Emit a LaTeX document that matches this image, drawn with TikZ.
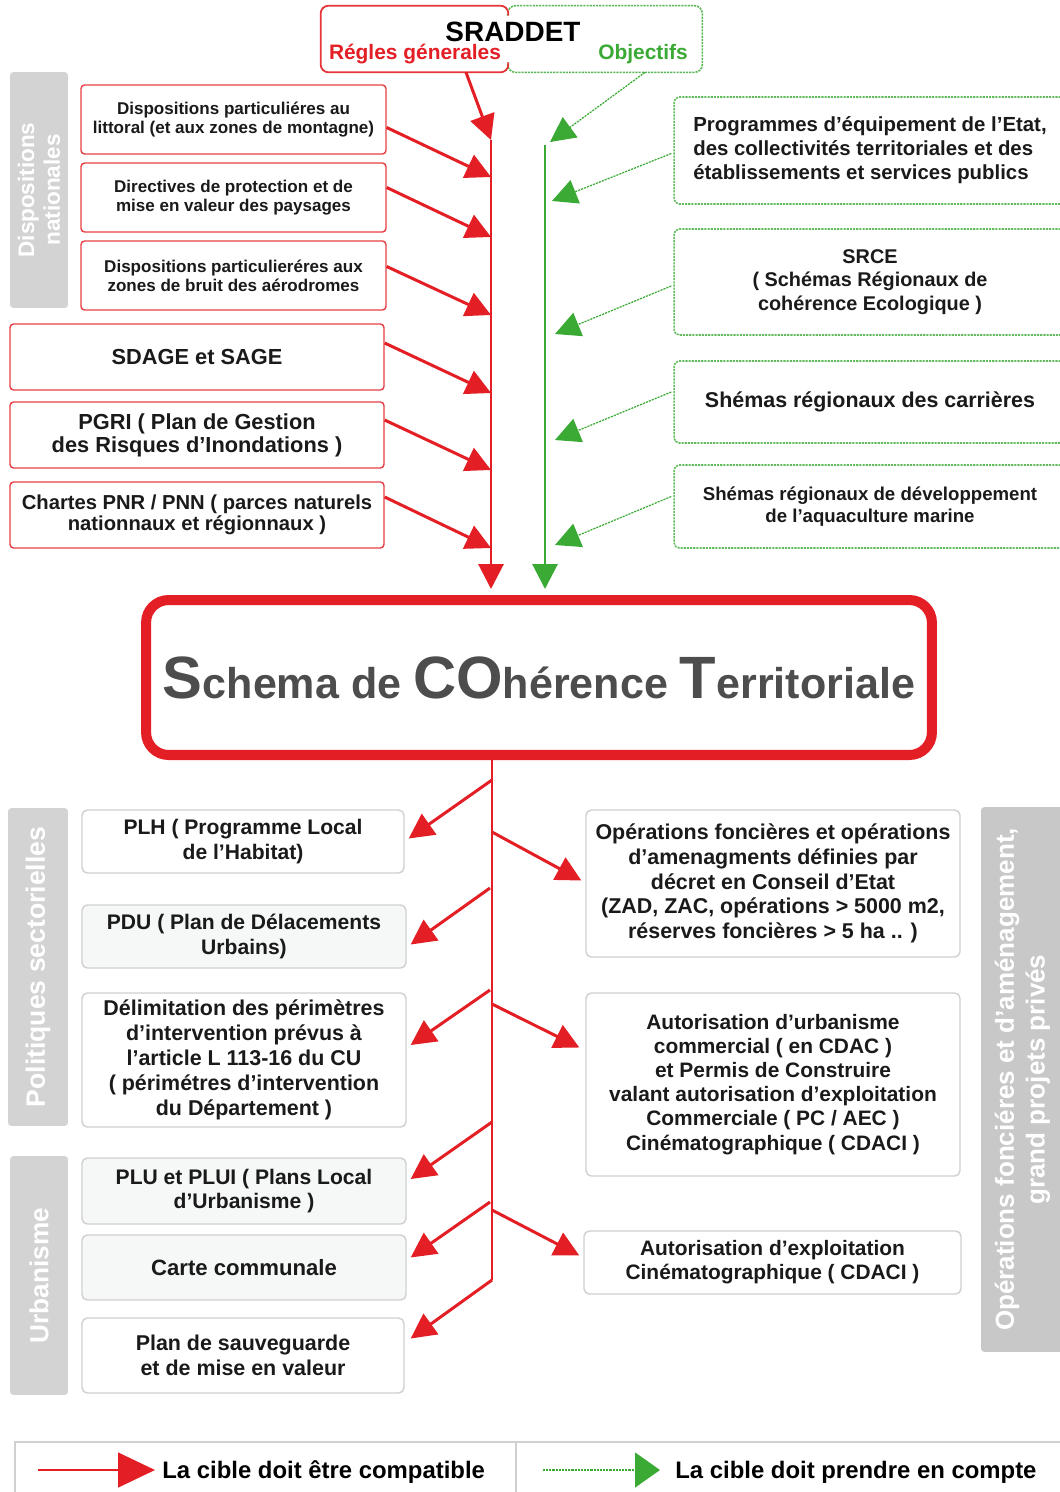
\documentclass[tikz,border=0pt]{standalone}
\usepackage{fontspec}
\setmainfont{Liberation Sans}
\usetikzlibrary{arrows.meta,calc}
\definecolor{rouge}{HTML}{E31E24}
\definecolor{vert}{HTML}{3AAA35}
\definecolor{gris}{HTML}{D3D3D3}
\definecolor{grisfonce}{HTML}{C8C8C8}
\definecolor{grisbord}{HTML}{D0D0D0}
\definecolor{texte}{HTML}{1A1A1A}
\definecolor{scotgris}{HTML}{4D4D4D}
\definecolor{fondbox}{HTML}{F6F7F7}
\newcommand\fsz[2]{\fontsize{#1}{#2}\selectfont\bfseries}
\tikzset{
  rbox/.style={draw=rouge!85,line width=0.8pt,rounded corners=2pt,fill=white,inner sep=0pt,align=center,text=texte},
  vbox/.style={draw=vert!80,line width=0.9pt,dash pattern=on 1.2pt off 0.6pt,rounded corners=3pt,fill=white,inner sep=0pt,align=center,text=texte},
  gbox/.style={draw=grisbord,line width=0.8pt,rounded corners=3pt,fill=white,inner sep=0pt,align=center,text=texte},
  side/.style={fill=gris,rounded corners=2pt,inner sep=0pt,align=center,text=white,rotate=90},
  fr/.style={rouge,line width=1.7pt,-{Triangle[length=0.5cm,width=0.5cm]}},
  fv/.style={vert,line width=0.7pt,dash pattern=on 1.2pt off 0.6pt,-{Triangle[length=0.5cm,width=0.5cm]}},
}
\begin{document}
\begin{tikzpicture}[x=0.02cm,y=-0.02cm]
  \useasboundingbox[fill=white] (0,0) rectangle (1059,1492);

  \node[minimum width=3.74cm,minimum height=1.32cm,inner sep=0pt] (sr) at (414.5,39) {};
  \node[minimum width=3.88cm,minimum height=1.32cm,inner sep=0pt] (ob) at (605,39) {};
  \draw[vert!85,line width=0.9pt,dash pattern=on 1.2pt off 0.6pt,rounded corners=4.5pt] ([yshift=-0.2cm]ob.north west) -- (ob.north west) -- (ob.north east) -- (ob.south east) -- (ob.south west) -- ([yshift=0.2cm]ob.south west);
  \draw[rouge!90,line width=1pt,rounded corners=4.5pt] ([yshift=-0.2cm]sr.north east) -- (sr.north east) -- (sr.north west) -- (sr.south west) -- (sr.south east) -- ([yshift=0.2cm]sr.south east);
  \node[font=\fsz{15.9}{16},text=black] (tsr) at (513,32) {SRADDET};
  \node[font=\fsz{11.9}{12},text=rouge] (trg) at (415,54) {Régles génerales};
  \node[font=\fsz{11.9}{12},text=vert] (tob) at (643,54) {Objectifs};

  \node[side,minimum width=4.72cm,minimum height=1.16cm,font=\fsz{12.8}{14.7}] (dn) at (39,190) {Dispositions\\nationales};
  \node[side,minimum width=6.36cm,minimum height=1.2cm,font=\fsz{15.1}{16}] (ps) at (38,967) {Politiques sectorielles};
  \node[side,minimum width=4.78cm,minimum height=1.16cm,font=\fsz{14.9}{16}] (ur) at (39,1275.5) {Urbanisme};
  \node[side,fill=grisfonce,minimum width=10.9cm,minimum height=1.66cm,font=\fsz{14.8}{17.5}] (of) at (1022.5,1079.5) {Opérations fonciéres et d’aménagement,\\grand projets privés};

  \node[rbox,minimum width=6.1cm,minimum height=1.38cm,font=\fsz{9.7}{10.8}] (dp1) at (233.5,119.5) {Dispositions particuliéres au\\littoral (et aux zones de montagne)};
  \node[rbox,minimum width=6.1cm,minimum height=1.38cm,font=\fsz{9.7}{10.8}] (dp2) at (233.5,197.5) {Directives de protection et de\\mise en valeur des paysages};
  \node[rbox,minimum width=6.1cm,minimum height=1.38cm,font=\fsz{9.7}{10.8}] (dp3) at (233.5,275.5) {Dispositions particulieréres aux\\zones de bruit des aérodromes};
  \node[rbox,minimum width=7.48cm,minimum height=1.32cm,font=\fsz{12.4}{13}] (sd) at (197,357) {SDAGE et SAGE};
  \node[rbox,minimum width=7.48cm,minimum height=1.32cm,font=\fsz{12.4}{13}] (pg) at (197,435) {PGRI ( Plan de Gestion\\des Risques d’Inondations )};
  \node[rbox,minimum width=7.48cm,minimum height=1.32cm,font=\fsz{11.5}{11.8}] (ch) at (197,515) {Chartes PNR / PNN ( parces naturels\\nationnaux et régionnaux )};

  \node[vbox,minimum width=7.84cm,minimum height=2.14cm,font=\fsz{11.6}{13.6},align=left] (pe) at (870,150.5) {Programmes d’équipement de l’Etat,\\des collectivités territoriales et des\\établissements et services publics};
  \node[vbox,minimum width=7.84cm,minimum height=2.12cm,font=\fsz{11.3}{13.3}] (srce) at (870,282) {SRCE\\( Schémas Régionaux de\\cohérence Ecologique )};
  \node[vbox,minimum width=7.84cm,minimum height=1.64cm,font=\fsz{12.2}{13}] (ca) at (870,402) {Shémas régionaux des carrières};
  \node[vbox,minimum width=7.84cm,minimum height=1.66cm,font=\fsz{10.6}{12.4}] (aq) at (870,506.5) {Shémas régionaux de développement\\de l’aquaculture marine};

  \node[draw=rouge,line width=5.7pt,rounded corners=0.45cm,minimum width=15.72cm,minimum height=3.1cm,inner sep=0pt,text=scotgris] (scot) at (539,677.5) {{\fsz{34}{34}S}{\fsz{24.5}{25}chema de }{\fsz{34}{34}CO}{\fsz{24.5}{25}hérence }{\fsz{34}{34}T}{\fsz{24.5}{25}erritoriale}};

  \node[gbox,minimum width=6.44cm,minimum height=1.26cm,font=\fsz{12}{14}] (plh) at (243,841.5) {PLH ( Programme Local\\de l’Habitat)};
  \node[gbox,fill=fondbox,minimum width=6.48cm,minimum height=1.26cm,font=\fsz{12}{14}] (pdu) at (244,936.5) {PDU ( Plan de Délacements\\Urbains)};
  \node[gbox,minimum width=6.48cm,minimum height=2.68cm,font=\fsz{12.2}{14.2}] (del) at (244,1060) {Délimitation des périmètres\\d’intervention prévus à\\l’article L 113-16 du CU\\( périmétres d’intervention\\du Département )};
  \node[gbox,fill=fondbox,minimum width=6.48cm,minimum height=1.32cm,font=\fsz{12}{14}] (plu) at (244,1191) {PLU et PLUI ( Plans Local\\d’Urbanisme )};
  \node[gbox,fill=fondbox,minimum width=6.48cm,minimum height=1.3cm,font=\fsz{12.6}{14}] (cc) at (244,1267.5) {Carte communale};
  \node[gbox,minimum width=6.44cm,minimum height=1.5cm,font=\fsz{12.2}{14.4}] (psv) at (243,1355.5) {Plan de sauveguarde\\et de mise en valeur};

  \node[gbox,minimum width=7.48cm,minimum height=2.94cm,font=\fsz{12.2}{14}] (opf) at (773,883.5) {Opérations foncières et opérations\\d’amenagments définies par\\décret en Conseil d’Etat\\(ZAD, ZAC, opérations > 5000 m2,\\réserves foncières > 5 ha .. )};
  \node[gbox,minimum width=7.48cm,minimum height=3.66cm,font=\fsz{11.9}{13.7}] (auc) at (773,1084.5) {Autorisation d’urbanisme\\commercial ( en CDAC )\\et Permis de Construire\\valant autorisation d’exploitation\\Commerciale ( PC / AEC )\\Cinématographique ( CDACI )};
  \node[gbox,minimum width=7.54cm,minimum height=1.26cm,font=\fsz{11.9}{13.7}] (aec) at (772.5,1262.5) {Autorisation d’exploitation\\Cinématographique ( CDACI )};

  \coordinate (rtop) at (491,140);
  \coordinate (vtop) at (545,145);
  \draw[fr] ($(sr.south)+(51.5,0)$) -- (rtop);
  \draw[fv] ($(ob.south)+(40,0)$) -- (550,142);
  \draw[fr] (rtop) -- (rtop |- scot.north) [shorten >=0.12cm];
  \draw[vert,line width=1.7pt,-{Triangle[length=0.5cm,width=0.5cm]},shorten >=0.12cm] (vtop) -- (vtop |- scot.north);

  \coordinate (t1) at (491,177);
  \coordinate (t2) at (491,237);
  \coordinate (t3) at (491,315);
  \coordinate (t4) at (491,393);
  \coordinate (t5) at (491,470);
  \coordinate (t6) at (491,548);
  \draw[fr] ($(dp1.east)+(0,8)$) -- (t1);
  \draw[fr] ($(dp2.east)+(0,-10)$) -- (t2);
  \draw[fr] ($(dp3.east)+(0,-9)$) -- (t3);
  \draw[fr] ($(sd.east)+(0,-14)$) -- (t4);
  \draw[fr] ($(pg.east)+(0,-15)$) -- (t5);
  \draw[fr] ($(ch.east)+(0,-18)$) -- (t6);

  \coordinate (v1) at (552,201);
  \coordinate (v2) at (555,334);
  \coordinate (v3) at (555,440);
  \coordinate (v4) at (555,545);
  \draw[fv] ($(pe.west)+(-2,3)$) -- (v1);
  \draw[fv] ($(srce.west)+(-2,4)$) -- (v2);
  \draw[fv] ($(ca.west)+(-2,-10)$) -- (v3);
  \draw[fv] ($(aq.west)+(-2,-10)$) -- (v4);

  \coordinate (m1) at (492,780);
  \coordinate (m2) at (490,888);
  \coordinate (m3) at (490,990);
  \coordinate (m4) at (492,1122);
  \coordinate (m5) at (490,1202);
  \coordinate (m6) at (492,1280);
  \coordinate (n1) at (492,832);
  \coordinate (n2) at (492,1004);
  \coordinate (n3) at (492,1210);
  \draw[rouge,line width=1.2pt] (scot.south -| m1) -- (m6);
  \draw[fr] (m1) -- ($(plh.east)+(4,-3)$);
  \draw[fr] (m2) -- ($(pdu.east)+(4,8)$);
  \draw[fr] (m3) -- ($(del.east)+(4,-15)$);
  \draw[fr] (m4) -- ($(plu.east)+(4,-12)$);
  \draw[fr] (m5) -- ($(cc.east)+(4,-10)$);
  \draw[fr] (m6) -- ($(psv.east)+(6,-17)$);
  \draw[fr] (n1) -- ($(opf.west)+(-4,-3)$);
  \draw[fr] (n2) -- ($(auc.west)+(-6,-37)$);
  \draw[fr] (n3) -- ($(aec.west)+(-4,-7)$);

  \draw[grisbord,line width=0.8pt] (1064,1442) -- (15,1442) -- (15,1495);
  \draw[grisbord,line width=0.8pt] (516,1442) -- (516,1495);
  \coordinate (lr) at (38,1470);
  \coordinate (lv) at (543,1470);
  \node[anchor=west,inner sep=0pt,font=\fsz{13.6}{14},text=black] (lc) at (162,1472) {La cible doit être compatible};
  \node[anchor=west,inner sep=0pt,font=\fsz{13.6}{14},text=black] (lp) at (675,1472) {La cible doit prendre en compte};
  \draw[rouge,line width=0.8pt,-{Triangle[length=0.74cm,width=0.7cm]}] (lr) -- ([xshift=-0.14cm]lc.west |- lr);
  \draw[vert,line width=0.8pt,dash pattern=on 1.2pt off 0.6pt,-{Triangle[length=0.5cm,width=0.7cm]}] (lv) -- ([xshift=-0.3cm]lp.west |- lv);
\end{tikzpicture}
\end{document}
